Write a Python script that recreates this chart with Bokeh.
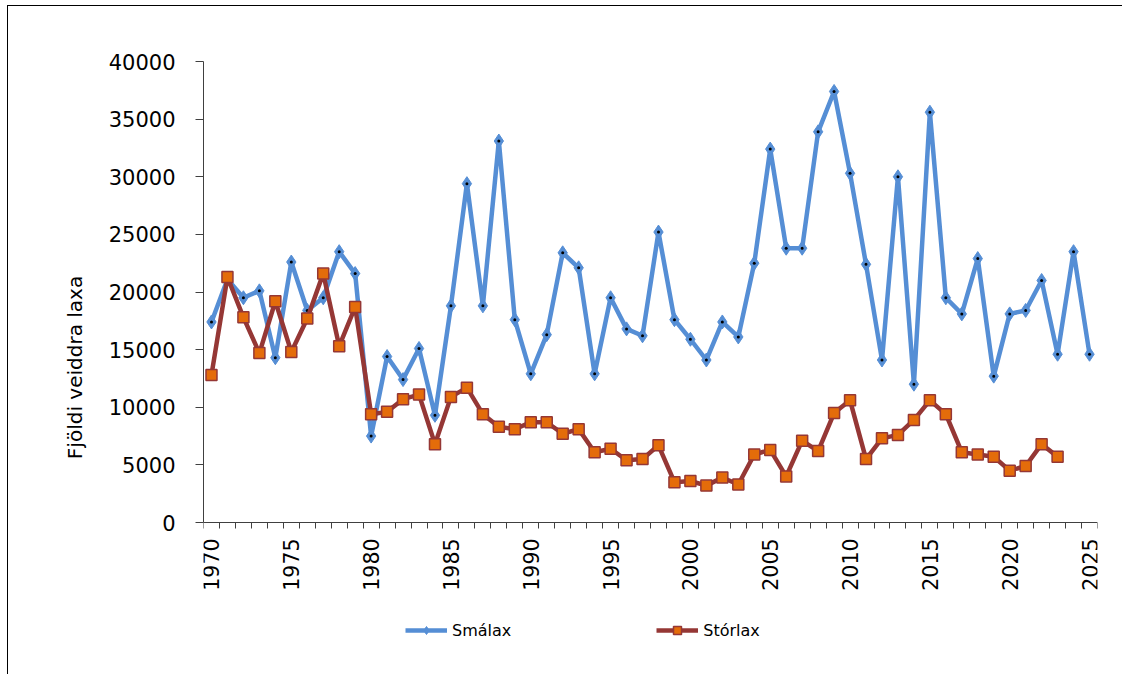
import math
from bokeh.plotting import figure
from bokeh.models import FixedTicker, Range1d, Legend, LegendItem
from bokeh.embed import file_html
from bokeh.resources import INLINE

years_small = list(range(1970, 2026))
smalax = [17400, 21100, 19500, 20100, 14300, 22600, 18400, 19500, 23500, 21600,
          7500, 14400, 12400, 15100, 9300, 18800, 29400, 18800, 33100, 17600,
          12900, 16300, 23400, 22100, 12900, 19500, 16800, 16200, 25200, 17600,
          15900, 14100, 17400, 16100, 22500, 32400, 23800, 23800, 33900, 37400,
          30300, 22400, 14100, 30000, 12000, 35600, 19500, 18100, 22900, 12700,
          18100, 18400, 21000, 14600, 23500, 14600]

years_large = list(range(1970, 2024))
storlax = [12800, 21300, 17800, 14700, 19200, 14800, 17700, 21600, 15300, 18700,
           9400, 9600, 10700, 11100, 6800, 10900, 11700, 9400, 8300, 8100,
           8700, 8700, 7700, 8100, 6100, 6400, 5400, 5500, 6700, 3500,
           3600, 3200, 3900, 3300, 5900, 6300, 4000, 7100, 6200, 9500,
           10600, 5500, 7300, 7600, 8900, 10600, 9400, 6100, 5900, 5700,
           4500, 4900, 6800, 5700]

x_label_years = [1970, 1975, 1980, 1985, 1990, 1995, 2000, 2005, 2010, 2015, 2020, 2025]
y_ticks = [0, 5000, 10000, 15000, 20000, 25000, 30000, 35000, 40000]

FONT = "DejaVu Sans"
BLUE = "#558ED5"
RED = "#953735"
ORANGE = "#E46C0A"

# layout (canvas pixels)
W, H = 1115, 669
LEFT, RIGHT, TOP, BOTTOM = 195, 26, 55, 2
zero_px = 516            # canvas y of value 0
frame_bottom = H - BOTTOM
y_max = y_ticks[-1]
y_min = -y_max * (frame_bottom - zero_px) / (zero_px - TOP)

p = figure(width=W, height=H, output_backend="svg", toolbar_location=None,
           x_range=Range1d(years_small[0] - 0.5, years_small[-1] + 0.5),
           y_range=Range1d(y_min, y_max),
           min_border_left=LEFT, min_border_right=RIGHT, min_border_top=TOP, min_border_bottom=BOTTOM)
p.styles = {"border-left": "1px solid #000", "border-top": "1px solid #000",
            "margin-left": "7px", "margin-top": "5px"}
p.outline_line_color = None
p.xgrid.visible = False
p.ygrid.visible = False
p.background_fill_color = "white"
p.border_fill_color = "white"

minor = [y - 0.5 for y in years_small] + [years_small[-1] + 0.5]
p.xaxis.fixed_location = 0
p.xaxis.ticker = FixedTicker(ticks=x_label_years, minor_ticks=minor)
p.xaxis.major_tick_line_color = None
p.xaxis.major_tick_out = 0
p.xaxis.major_tick_in = 0
p.xaxis.minor_tick_in = 0
p.xaxis.minor_tick_out = 6
p.xaxis.minor_tick_line_color = "#404040"
p.xaxis.axis_line_color = "#404040"
p.xaxis.major_label_orientation = math.pi / 2
p.xaxis.major_label_text_font = FONT
p.xaxis.major_label_text_font_size = "20.5px"
p.xaxis.major_label_text_color = "black"
p.xaxis.major_label_standoff = 10

p.yaxis.bounds = (0, y_max)
p.yaxis.ticker = FixedTicker(ticks=y_ticks)
p.yaxis.minor_tick_line_color = None
p.yaxis.major_tick_in = 0
p.yaxis.major_tick_out = 8
p.yaxis.major_tick_line_color = "#404040"
p.yaxis.axis_line_color = "#404040"
p.yaxis.major_label_text_font = FONT
p.yaxis.major_label_text_font_size = "21px"
p.yaxis.major_label_text_color = "black"
p.yaxis.major_label_standoff = 20
p.yaxis.axis_label = "Fjöldi veiddra laxa"
p.yaxis.axis_label_text_font = FONT
p.yaxis.axis_label_text_font_size = "20px"
p.yaxis.axis_label_text_font_style = "normal"
p.yaxis.axis_label_text_color = "black"
p.yaxis.axis_label_standoff = 19

l1 = p.line(years_small, smalax, line_color=BLUE, line_width=4.5)
m1 = p.scatter(years_small, smalax, marker="diamond", size=14, fill_color=BLUE, line_color=BLUE, line_width=1)
d1 = p.scatter(years_small, smalax, marker="circle", size=3, fill_color="black", line_color=None)

l2 = p.line(years_large, storlax, line_color=RED, line_width=4.5)
m2 = p.scatter(years_large, storlax, marker="square", size=11, fill_color=ORANGE, line_color=RED, line_width=1.5)

legend = Legend(items=[LegendItem(label="Smálax", renderers=[l1, m1]),
                       LegendItem(label="Stórlax", renderers=[l2, m2])],
                location=(202, 33), orientation="horizontal",
                padding=0, margin=0, spacing=145, glyph_width=42, glyph_height=20,
                label_standoff=5, label_text_font=FONT, label_text_font_size="16px",
                label_text_color="black",
                label_height=20, border_line_color=None, background_fill_alpha=0)
p.add_layout(legend, "center")

open("out.html", "w").write(file_html(p, INLINE))
